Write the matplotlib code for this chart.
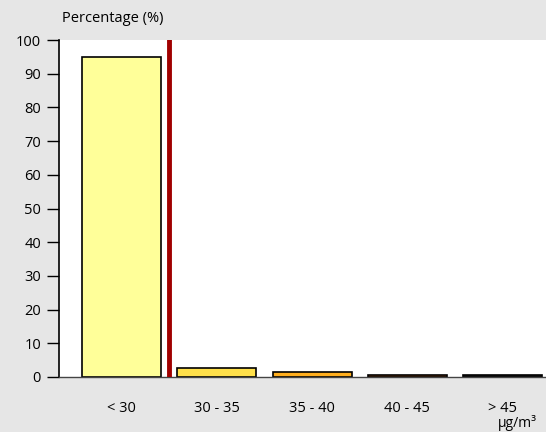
import matplotlib
matplotlib.use("Agg")
import matplotlib.pyplot as plt

plt.rcParams['font.family'] = ['Open Sans', 'DejaVu Sans']

categories = ["< 30", "30 - 35", "35 - 40", "40 - 45", "> 45"]
values = [95.0, 2.6, 1.6, 0.7, 0.5]
colors = ["#FFFF99", "#FFE04A", "#FFAE1E", "#C05A10", "#202020"]
limit_pos = 0.5

fig = plt.figure(figsize=(5.46, 4.32), dpi=100)
fig.patch.set_facecolor("#E6E6E6")
ax = fig.add_axes([59/546, 55/432, 487/546, 337/432])
ax.set_facecolor("white")

x = list(range(len(categories)))
ax.bar(x, values, width=0.83, color=colors, edgecolor="black", linewidth=1.2, zorder=2)
ax.axvline(limit_pos, color="#A00000", linewidth=3.5, zorder=3)

ax.set_xlim(-0.656, 4.455)
ax.set_ylim(0, 100)
ax.set_yticks(range(0, 101, 10))
ax.set_xticks(x)
ax.set_xticklabels(categories, fontsize=10.5)
ax.tick_params(axis="x", length=0, pad=17)
ax.tick_params(axis="y", length=9, width=1, labelsize=10.5, pad=4, direction="out")

for side in ["top", "right"]:
    ax.spines[side].set_visible(False)
ax.spines["left"].set_linewidth(1.2)
ax.spines["bottom"].set_color("#444444")
ax.spines["bottom"].set_linewidth(1)

fig.text(62/546, 1 - 18/432, "Percentage (%)", fontsize=10.5, ha="left", va="center")
fig.text(517/546, 1 - 423/432, "µg/m³", fontsize=10, ha="center", va="center")

fig.savefig("out.png", dpi=100, facecolor=fig.get_facecolor())
